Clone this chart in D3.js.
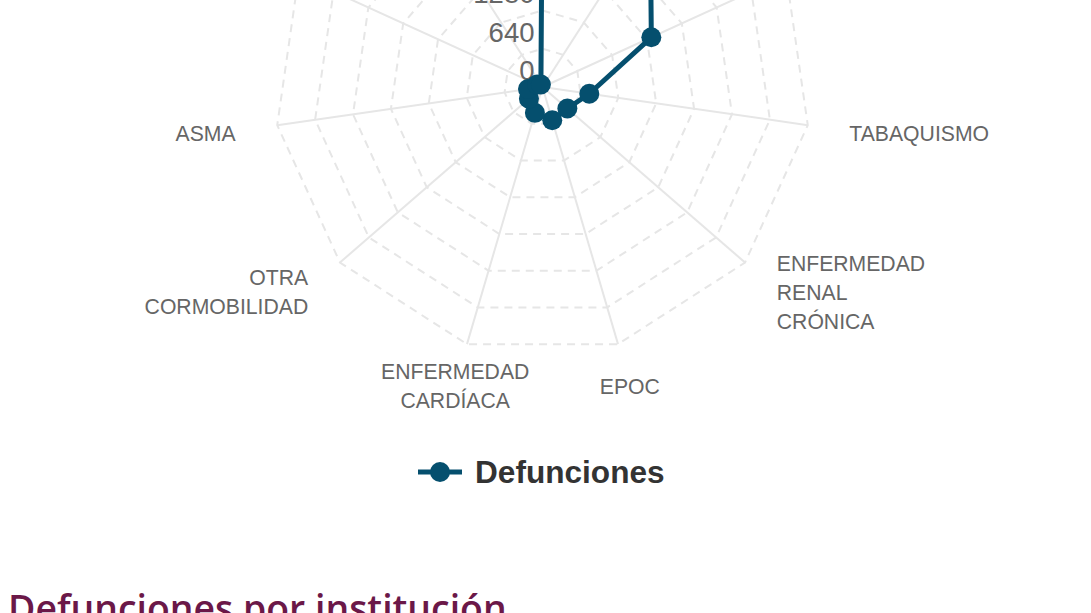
<!DOCTYPE html>
<html>
<head>
<meta charset="utf-8">
<script src="https://cdnjs.cloudflare.com/ajax/libs/d3/7.8.5/d3.min.js"></script>
<style>
  body { margin: 0; background: #fff; overflow: hidden; }
  #radarcontainer { width: 1091px; height: 613px; }
</style>
</head>
<body>
<div id="radarcontainer"></div>
<script>
// comorbilidades (las de arriba quedan fuera de la vista)
const categories = ['HIPERTENSIÓN', 'DIABETES', 'OBESIDAD', 'TABAQUISMO', 'ENFERMEDAD RENAL CRÓNICA',
  'EPOC', 'ENFERMEDAD CARDÍACA', 'OTRA CORMOBILIDAD', 'ASMA', 'INMUNOSUPRESIÓN', 'VIH/SIDA'];
const defunciones = [3940, 3330, 2000, 790, 550, 580, 450, 300, 245, 100, 50];
const radialTicks = [0, 640, 1280, 1920, 2560, 3200, 3840, 4480];
const seriesName = 'Defunciones';
const sectionTitle = 'Defunciones por institución';

let width = 1091, height = 613;
let cx = 542.5, cy = 87, radius = 268;
let gridColor = '#e6e6e6';
let seriesColor = '#054f6e';

let svg = d3.select('#radarcontainer').append('svg')
  .attr('width', width)
  .attr('height', height)
  .style('font-family', '"Liberation Sans", Arial, Helvetica, sans-serif');

let chart = svg.append('g')
  .attr('transform', 'translate(' + [cx, cy] + ')');

let r = d3.scaleLinear()
  .domain([0, d3.max(radialTicks)])
  .range([0, radius]);

let angle = d3.scaleLinear()
  .domain([0, categories.length])
  .range([0, 2 * Math.PI]);

function px(i, v) { return Math.sin(angle(i)) * r(v); }
function py(i, v) { return -Math.cos(angle(i)) * r(v); }

// dashed polygon rings
let ring = d3.lineRadial()
  .angle((d, i) => angle(i))
  .radius(d => r(d))
  .curve(d3.curveLinearClosed);

chart.append('g').selectAll('path')
  .data(radialTicks.filter(t => t > 0))
  .enter().append('path')
  .attr('d', t => ring(categories.map(() => t)))
  .attr('fill', 'none')
  .attr('stroke', gridColor)
  .attr('stroke-width', 2)
  .attr('stroke-dasharray', '8,6');

// spokes
chart.append('g').selectAll('line')
  .data(categories)
  .enter().append('line')
  .attr('x1', 0).attr('y1', 0)
  .attr('x2', (d, i) => px(i, d3.max(radialTicks)))
  .attr('y2', (d, i) => py(i, d3.max(radialTicks)))
  .attr('stroke', gridColor)
  .attr('stroke-width', 2);

// category labels
let labelR = d3.max(radialTicks);
let labels = chart.append('g').selectAll('text')
  .data(categories)
  .enter().append('text')
  .attr('fill', '#666')
  .style('font-size', '21.2px')
  .attr('text-anchor', (d, i) => {
    let s = Math.sin(angle(i));
    return s > 0.4 ? 'start' : (s < -0.4 ? 'end' : 'middle');
  })
  .attr('transform', (d, i) => {
    let k = (radius + 42) / radius;
    return 'translate(' + [px(i, labelR) * k, py(i, labelR) * k] + ')';
  });

labels.each(function(d) {
  let words = d.split(' ');
  let sel = d3.select(this);
  words.forEach((w, j) => {
    sel.append('tspan')
      .attr('x', 0)
      .attr('y', (j - (words.length - 1) / 2) * 29)
      .attr('dy', '0.45em')
      .text(w);
  });
});

// radial tick labels
chart.append('g').selectAll('text')
  .data(radialTicks)
  .enter().append('text')
  .attr('x', -8)
  .attr('y', t => -r(t) - 7)
  .attr('text-anchor', 'end')
  .attr('fill', '#666')
  .style('font-size', '27.5px')
  .text(t => t);

// series
let line = d3.lineRadial()
  .angle((d, i) => angle(i))
  .radius(d => r(d))
  .curve(d3.curveLinearClosed);

chart.append('path')
  .datum(defunciones)
  .attr('d', line)
  .attr('fill', 'none')
  .attr('stroke', seriesColor)
  .attr('stroke-width', 5)
  .attr('stroke-linejoin', 'round');

chart.append('g').selectAll('circle')
  .data(defunciones)
  .enter().append('circle')
  .attr('cx', (d, i) => px(i, d))
  .attr('cy', (d, i) => py(i, d))
  .attr('r', 10)
  .attr('fill', seriesColor);

// legend
let legend = svg.append('g')
  .attr('transform', 'translate(' + [418, 472] + ')');

legend.append('line')
  .attr('x1', 0).attr('x2', 44)
  .attr('stroke', seriesColor)
  .attr('stroke-width', 5);

legend.append('circle')
  .attr('cx', 22)
  .attr('r', 10)
  .attr('fill', seriesColor);

legend.append('text')
  .attr('x', 57)
  .attr('y', 11)
  .attr('fill', '#333')
  .style('font-size', '31.6px')
  .style('font-weight', 'bold')
  .text(seriesName);

// next section heading, cut by the bottom edge
svg.append('text')
  .attr('x', 8)
  .attr('y', 622)
  .attr('fill', '#6b1848')
  .style('font-family', '"Open Sans", sans-serif')
  .style('font-weight', 600)
  .style('font-size', '37.4px')
  .text(sectionTitle);
</script>
</body>
</html>
